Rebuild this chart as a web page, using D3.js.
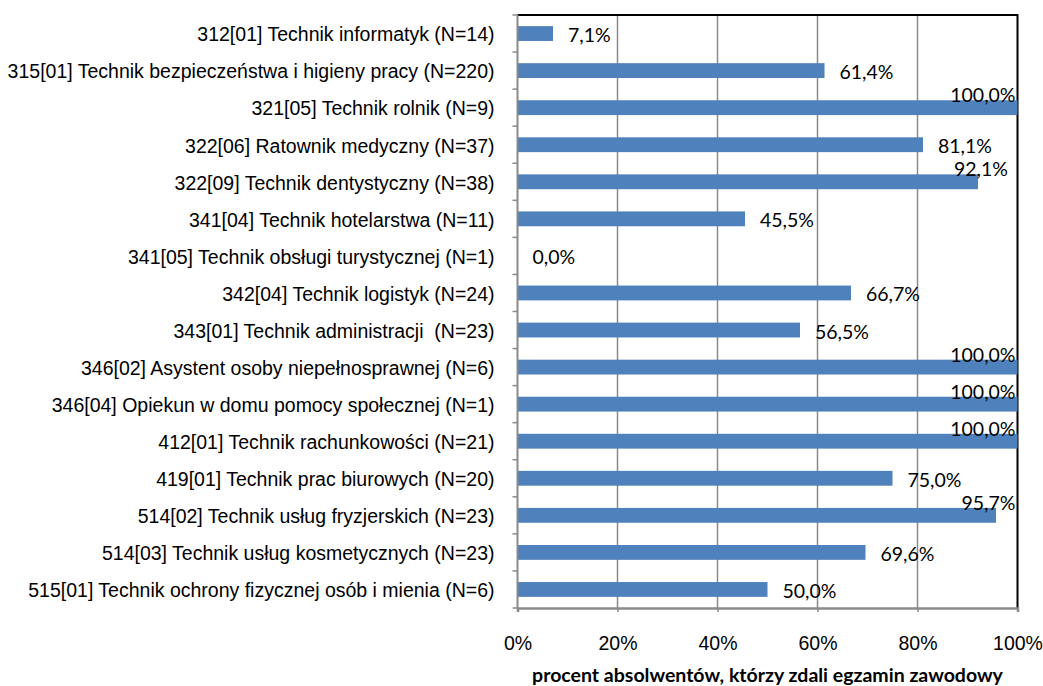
<!DOCTYPE html>
<html>
<head>
<meta charset="utf-8">
<script src="https://cdn.jsdelivr.net/npm/d3@7"></script>
<style>
  body { margin: 0; background: #fff; }
  svg { font-family: Lato, "Open Sans", sans-serif; }
  svg text { white-space: pre; }
</style>
</head>
<body>
<div id="chart"></div>
<script>
var categories = [
  "312[01] Technik informatyk (N=14)",
  "315[01] Technik bezpieczeństwa i higieny pracy (N=220)",
  "321[05] Technik rolnik (N=9)",
  "322[06] Ratownik medyczny (N=37)",
  "322[09] Technik dentystyczny (N=38)",
  "341[04] Technik hotelarstwa (N=11)",
  "341[05] Technik obsługi turystycznej (N=1)",
  "342[04] Technik logistyk (N=24)",
  "343[01] Technik administracji  (N=23)",
  "346[02] Asystent osoby niepełnosprawnej (N=6)",
  "346[04] Opiekun w domu pomocy społecznej (N=1)",
  "412[01] Technik rachunkowości (N=21)",
  "419[01] Technik prac biurowych (N=20)",
  "514[02] Technik usług fryzjerskich (N=23)",
  "514[03] Technik usług kosmetycznych (N=23)",
  "515[01] Technik ochrony fizycznej osób i mienia (N=6)"
];
var passed = [0.071, 0.614, 1.0, 0.811, 0.921, 0.455, 0.0, 0.667, 0.565, 1.0, 1.0, 1.0, 0.75, 0.957, 0.696, 0.5];
var xTicks = [0, 0.2, 0.4, 0.6, 0.8, 1.0];
var xTitle = "procent absolwentów, którzy zdali egzamin zawodowy";

var W = 1043, H = 686;
var plotLeft = 517.5, plotRight = 1017.5, plotTop = 15, plotBottom = 608;

var pl = d3.formatLocale({ decimal: ",", thousands: " ", grouping: [3], currency: ["", " zł"] });
var fmtVal = pl.format(".1%");
var fmtTick = pl.format(".0%");

var svg = d3.select("#chart").append("svg")
  .attr("width", W).attr("height", H);

svg.append("rect").attr("width", W).attr("height", H).attr("fill", "#fff");

// size the text so the longest label spans like the original
var probe = svg.append("text").attr("font-size", 20).text(categories[1]);
var fs = 20 * 481 / probe.node().getComputedTextLength();
probe.remove();

var x = d3.scaleLinear().domain([0, 1]).range([plotLeft, plotRight]);
var y = d3.scaleBand().domain(categories).range([plotTop, plotBottom])
  .paddingInner(0.6).paddingOuter(0.3);
var rows = d3.scaleLinear().domain([0, categories.length]).range([plotTop, plotBottom]);

// gridlines
svg.append("g").selectAll("line")
  .data(xTicks.slice(1, -1))
  .enter().append("line")
  .attr("x1", function (d) { return x(d); })
  .attr("x2", function (d) { return x(d); })
  .attr("y1", plotTop).attr("y2", plotBottom)
  .attr("stroke", "#8a8a8a").attr("stroke-width", 1.5);

// plot border (top/right black)
svg.append("path")
  .attr("d", "M" + plotLeft + "," + plotTop + "H" + plotRight + "V" + plotBottom)
  .attr("fill", "none").attr("stroke", "#000").attr("stroke-width", 2);

// bars
svg.append("g").selectAll("rect")
  .data(passed)
  .enter().append("rect")
  .attr("x", x(0))
  .attr("y", function (d, i) { return y(categories[i]); })
  .attr("width", function (d) { return x(d) - x(0); })
  .attr("height", y.bandwidth())
  .attr("fill", "#4f81bd");

// value labels
svg.append("g").selectAll("text")
  .data(passed)
  .enter().append("text")
  .attr("font-size", fs)
  .attr("fill", "#000")
  .attr("dominant-baseline", "central")
  .attr("text-anchor", function (d) { return d >= 0.9 ? "end" : "start"; })
  .attr("x", function (d) { return d >= 0.9 ? Math.min(x(d) + 30, plotRight - 2) : x(d) + 15; })
  .attr("y", function (d, i) {
    var c = y(categories[i]) + y.bandwidth() / 2;
    return d >= 0.9 ? c - 13 : c + 1;
  })
  .text(function (d) { return fmtVal(d); });

// left axis: labels at band centres, ticks at row boundaries
var yAxis = svg.append("g")
  .attr("transform", "translate(" + plotLeft + ",0)")
  .call(d3.axisLeft(y).tickSize(0).tickPadding(23));
yAxis.select(".domain").remove();
yAxis.selectAll("text").attr("font-size", fs).attr("font-family", null).attr("fill", "#000").attr("dy", "0.4em");

svg.append("g").selectAll("line")
  .data(d3.range(categories.length + 1))
  .enter().append("line")
  .attr("x1", plotLeft - 5).attr("x2", plotLeft)
  .attr("y1", function (d) { return rows(d); })
  .attr("y2", function (d) { return rows(d); })
  .attr("stroke", "#8a8a8a").attr("stroke-width", 1.5);
svg.append("line")
  .attr("x1", plotLeft).attr("x2", plotLeft).attr("y1", plotTop).attr("y2", plotBottom)
  .attr("stroke", "#8a8a8a").attr("stroke-width", 2);

// bottom axis
var xAxis = svg.append("g")
  .attr("transform", "translate(0," + plotBottom + ")")
  .call(d3.axisBottom(x).tickValues(xTicks).tickFormat(fmtTick).tickSize(4).tickPadding(24));
xAxis.select(".domain").attr("stroke", "#8a8a8a").attr("stroke-width", 2.5);
xAxis.selectAll(".tick line").attr("stroke", "#8a8a8a").attr("stroke-width", 1.5);
xAxis.selectAll("text").attr("font-size", fs).attr("font-family", null).attr("fill", "#000");

svg.append("text")
  .attr("x", (plotLeft + plotRight) / 2)
  .attr("y", 682)
  .attr("text-anchor", "middle")
  .attr("font-size", fs)
  .attr("font-weight", "bold")
  .attr("fill", "#000")
  .text(xTitle);
</script>
</body>
</html>
